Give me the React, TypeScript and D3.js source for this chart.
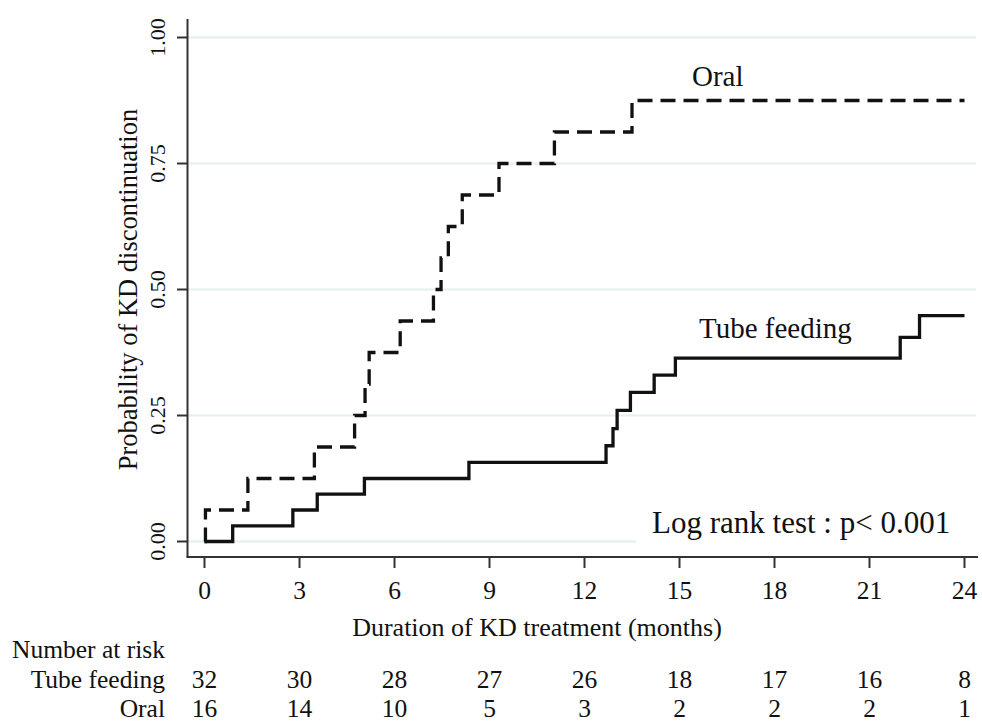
import { useEffect, useRef } from "react";
import * as d3 from "d3";

// months shown on the x axis
const timeTicks = [0, 3, 6, 9, 12, 15, 18, 21, 24];
const probTicks = [0, 0.25, 0.5, 0.75, 1];

// Kaplan-Meier step points (time in months, cumulative probability)
const tubeTimes = [0, 0.89, 2.79, 3.56, 5.05, 8.35, 12.68, 12.9, 13.03, 13.45, 14.2, 14.87, 21.97, 22.58, 24];
const tubeProb = [0, 0.031, 0.0625, 0.094, 0.125, 0.157, 0.19, 0.224, 0.26, 0.296, 0.33, 0.364, 0.405, 0.448, 0.448];

const oralTimes = [0, 0.03, 1.37, 3.47, 4.74, 5.07, 5.2, 6.18, 7.23, 7.47, 7.7, 8.14, 9.3, 11.05, 13.5, 24];
const oralProb = [0, 0.0625, 0.125, 0.1875, 0.25, 0.3125, 0.375, 0.4375, 0.5, 0.5625, 0.625, 0.6875, 0.75, 0.8125, 0.875, 0.875];

// number at risk table
const riskTube = [32, 30, 28, 27, 26, 18, 17, 16, 8];
const riskOral = [16, 14, 10, 5, 3, 2, 2, 2, 1];

const FONT = "'Liberation Serif', 'Times New Roman', Times, serif";

const KMChart = () => {
  const svgRef = useRef<SVGSVGElement | null>(null);

  useEffect(() => {
    const svg = d3.select(svgRef.current);
    svg.selectAll("*").remove();

    const x = d3.scaleLinear().domain([0, 24]).range([204.5, 964.5]);
    const y = d3.scaleLinear().domain([0, 1]).range([541.5, 37.5]);
    const axisX = 187.5;
    const axisY = 557;

    svg.append("rect").attr("width", 982).attr("height", 722).attr("fill", "#fff");

    // gridlines
    svg
      .selectAll("line.grid")
      .data(probTicks)
      .join("line")
      .attr("class", "grid")
      .attr("x1", axisX)
      .attr("x2", 976)
      .attr("y1", (d) => y(d))
      .attr("y2", (d) => y(d))
      .attr("stroke", "#e4eef0")
      .attr("stroke-width", 2);

    // curves
    const line = d3
      .line<[number, number]>()
      .x((d) => x(d[0]))
      .y((d) => y(d[1]))
      .curve(d3.curveStepAfter);

    const tube = tubeTimes.map((t, i) => [t, tubeProb[i]] as [number, number]);
    const oral = oralTimes.map((t, i) => [t, oralProb[i]] as [number, number]);

    svg
      .append("path")
      .attr("d", line(tube))
      .attr("fill", "none")
      .attr("stroke", "#111")
      .attr("stroke-width", 3.3);

    svg
      .append("path")
      .attr("d", line(oral))
      .attr("fill", "none")
      .attr("stroke", "#111")
      .attr("stroke-width", 3.3)
      .attr("stroke-dasharray", "15,8");

    // white box behind the test result
    svg.append("rect").attr("x", 636).attr("y", 500).attr("width", 342).attr("height", 52).attr("fill", "#fff");
    svg
      .append("text")
      .attr("x", 652)
      .attr("y", 533)
      .attr("font-family", FONT)
      .attr("font-size", 31)
      .attr("fill", "#111")
      .text("Log rank test : p< 0.001");

    // curve labels
    svg
      .append("text")
      .attr("x", 692)
      .attr("y", 86)
      .attr("font-family", FONT)
      .attr("font-size", 29)
      .attr("fill", "#111")
      .text("Oral");
    svg
      .append("text")
      .attr("x", 699)
      .attr("y", 338)
      .attr("font-family", FONT)
      .attr("font-size", 29)
      .attr("fill", "#111")
      .text("Tube feeding");

    // axes
    svg
      .append("line")
      .attr("x1", axisX)
      .attr("x2", axisX)
      .attr("y1", 19)
      .attr("y2", axisY)
      .attr("stroke", "#333")
      .attr("stroke-width", 2);
    svg
      .append("line")
      .attr("x1", axisX - 1)
      .attr("x2", 978)
      .attr("y1", axisY)
      .attr("y2", axisY)
      .attr("stroke", "#333")
      .attr("stroke-width", 2);

    svg
      .selectAll("line.ytick")
      .data(probTicks)
      .join("line")
      .attr("class", "ytick")
      .attr("x1", 177)
      .attr("x2", axisX)
      .attr("y1", (d) => y(d))
      .attr("y2", (d) => y(d))
      .attr("stroke", "#333")
      .attr("stroke-width", 2);

    svg
      .selectAll("text.ylab")
      .data(probTicks)
      .join("text")
      .attr("class", "ylab")
      .attr("transform", (d) => `translate(165, ${y(d)}) rotate(-90)`)
      .attr("text-anchor", "middle")
      .attr("font-family", FONT)
      .attr("font-size", 22)
      .attr("fill", "#111")
      .text((d) => d3.format(".2f")(d));

    svg
      .selectAll("line.xtick")
      .data(timeTicks)
      .join("line")
      .attr("class", "xtick")
      .attr("x1", (d) => x(d))
      .attr("x2", (d) => x(d))
      .attr("y1", axisY)
      .attr("y2", 568)
      .attr("stroke", "#333")
      .attr("stroke-width", 2);

    svg
      .selectAll("text.xlab")
      .data(timeTicks)
      .join("text")
      .attr("class", "xlab")
      .attr("x", (d) => x(d))
      .attr("y", 599)
      .attr("text-anchor", "middle")
      .attr("font-family", FONT)
      .attr("font-size", 25.5)
      .attr("fill", "#111")
      .text((d) => d);

    // axis titles
    svg
      .append("text")
      .attr("x", 537)
      .attr("y", 636)
      .attr("text-anchor", "middle")
      .attr("font-family", FONT)
      .attr("font-size", 26)
      .attr("fill", "#111")
      .text("Duration of KD treatment (months)");
    svg
      .append("text")
      .attr("transform", `translate(137, ${(y(0) + y(1)) / 2}) rotate(-90)`)
      .attr("text-anchor", "middle")
      .attr("font-family", FONT)
      .attr("font-size", 26.5)
      .attr("fill", "#111")
      .text("Probability of KD discontinuation");

    // number at risk
    const rows: [string, number[] | null, number][] = [
      ["Number at risk", null, 658],
      ["Tube feeding", riskTube, 688],
      ["Oral", riskOral, 717],
    ];
    rows.forEach(([label, vals, yy]) => {
      svg
        .append("text")
        .attr("x", 165)
        .attr("y", yy)
        .attr("text-anchor", "end")
        .attr("font-family", FONT)
        .attr("font-size", 25.5)
        .attr("fill", "#111")
        .text(label);
      if (!vals) return;
      svg
        .append("g")
        .selectAll("text")
        .data(vals)
        .join("text")
        .attr("x", (_, i) => x(timeTicks[i]))
        .attr("y", yy)
        .attr("text-anchor", "middle")
        .attr("font-family", FONT)
        .attr("font-size", 25.5)
        .attr("fill", "#111")
        .text((d) => d);
    });
  }, []);

  return (
    <svg
      ref={svgRef}
      width={982}
      height={722}
      style={{ position: "absolute", left: 0, top: 0, display: "block" }}
    ></svg>
  );
};

export default function App() {
  return <KMChart />;
}
